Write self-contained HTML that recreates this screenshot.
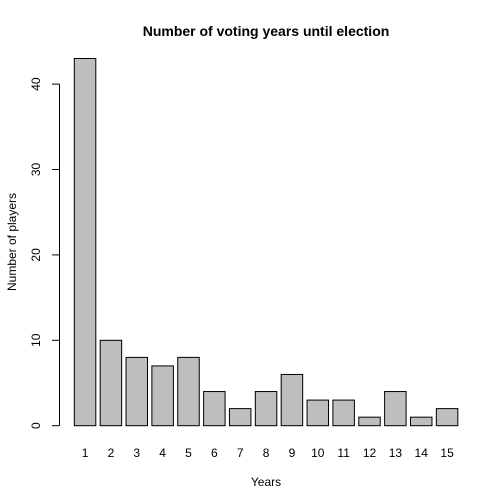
<!DOCTYPE html>
<html><head><meta charset="utf-8"><style>
html,body{margin:0;padding:0;background:#fff}
svg{display:block;font-family:"Liberation Sans",Arial,sans-serif}
</style></head><body>
<svg id="chart" width="504" height="504" viewBox="0 0 504 504">
<rect width="504" height="504" fill="#fff"/>
<text x="266" y="36" font-size="14" font-weight="bold" text-anchor="middle">Number of voting years until election</text>
<text x="266" y="486" font-size="12" text-anchor="middle">Years</text>
<text transform="translate(16,242) rotate(-90)" font-size="12" text-anchor="middle">Number of players</text>
<g id="bars"></g><g id="yaxis"></g><g id="xlabels"></g>
</svg>
<script>
const categories = ["1","2","3","4","5","6","7","8","9","10","11","12","13","14","15"];
const values = [43,10,8,7,8,4,2,4,6,3,3,1,4,1,2];
const yTicks = [0,10,20,30,40];
const NS = "http://www.w3.org/2000/svg";
const y0 = 425.7, pxPerUnit = 8.54;
function yScale(v){ return y0 - v*pxPerUnit; }
const step = 25.86, bw = 21.5, x0 = 74.3;
function xScale(i){ return x0 + i*step; }
const bars = document.getElementById('bars');
const xl = document.getElementById('xlabels');
values.forEach((v,i)=>{
  const r = document.createElementNS(NS,'rect');
  
  
  r.setAttribute('x', xScale(i)); r.setAttribute('y', yScale(v));
  r.setAttribute('width', bw); r.setAttribute('height', y0 - yScale(v));
  r.setAttribute('fill', '#bebebe'); r.setAttribute('stroke', '#000'); r.setAttribute('stroke-width', '1');
  bars.appendChild(r);
  const t = document.createElementNS(NS,'text');
  
  
  t.setAttribute('x', xScale(i)+bw/2); t.setAttribute('y', 457);
  t.setAttribute('font-size','12'); t.setAttribute('text-anchor','middle');
  t.textContent = categories[i];
  xl.appendChild(t);
});
const ya = document.getElementById('yaxis');
const ax = document.createElementNS(NS,'line');


ax.setAttribute('x1',59.5); ax.setAttribute('x2',59.5);
ax.setAttribute('y1',yScale(yTicks[0])); ax.setAttribute('y2',yScale(yTicks[yTicks.length-1]));
ax.setAttribute('stroke','#000');
ya.appendChild(ax);
yTicks.forEach(v=>{
  const l = document.createElementNS(NS,'line');
  
  
  l.setAttribute('x1',52); l.setAttribute('x2',59.5);
  l.setAttribute('y1',yScale(v)); l.setAttribute('y2',yScale(v));
  l.setAttribute('stroke','#000');
  ya.appendChild(l);
  const t = document.createElementNS(NS,'text');
  
  
  t.setAttribute('transform','translate(40,'+yScale(v)+') rotate(-90)');
  t.setAttribute('font-size','12'); t.setAttribute('text-anchor','middle');
  t.textContent = v;
  ya.appendChild(t);
});
</script>
</body></html>
